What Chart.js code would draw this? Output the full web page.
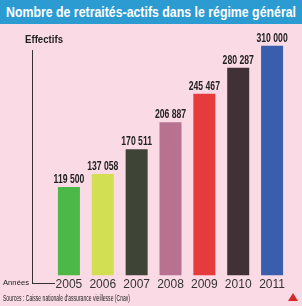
<!DOCTYPE html>
<html>
<head>
<meta charset="utf-8">
<script src="https://cdn.jsdelivr.net/npm/chart.js@4/dist/chart.umd.min.js"></script>
<style>
  html, body { margin: 0; padding: 0; }
  body {
    width: 302px; height: 306px; position: relative; overflow: hidden;
    background: #fadbe5;
    font-family: "Liberation Sans", Arial, sans-serif;
  }
  #chart { position: absolute; left: 0; top: 0; }
  .bandeau { position: absolute; left: 0; top: 0; width: 302px; height: 24px; background: #2b9bd2; }
  .serre { position: absolute; white-space: nowrap; transform-origin: 0 0; }
  .titre { left: 6px; top: 3px; color: #fff; font-weight: bold; font-size: 15px; line-height: 17px; }
  .effectifs { left: 25px; top: 33px; font-size: 11px; font-weight: bold; color: #222; }
  .annees { left: 3px; top: 278px; font-size: 8px; color: #222; }
  .axeY { position: absolute; left: 32px; top: 50px; width: 22px; height: 233px;
    border-left: 1px solid #333; border-bottom: 1px solid #333; }
  .source { left: 3px; top: 293px; font-size: 9px; color: #222; }
  .logo { position: absolute; left: 288px; top: 293px; width: 0; height: 0;
    border-left: 5px solid transparent; border-right: 5px solid transparent; border-bottom: 8px solid #d32a2a; }
</style>
</head>
<body>
<div class="bandeau"></div>
<div class="serre titre" data-largeur="290">Nombre de retraités-actifs dans le régime général</div>
<canvas id="chart" width="302" height="306"></canvas>
<div class="axeY"></div>
<div class="serre effectifs" data-largeur="38">Effectifs</div>
<div class="serre annees" data-largeur="26">Années</div>
<div class="serre source" data-largeur="127">Sources : Caisse nationale d'assurance vieillesse (Cnav)</div>
<div class="logo"></div>
<script>
// -------------------------------
// DONNEES
// -------------------------------
const annees = ["2005", "2006", "2007", "2008", "2009", "2010", "2011"];
const effectifs = [119500, 137058, 170511, 206887, 245467, 280287, 310000];
const etiquettes = ["119 500", "137 058", "170 511", "206 887", "245 467", "280 287", "310 000"];
const couleurs = ["#4cb848", "#d3df52", "#3f4536", "#b8728f", "#e63b3c", "#3f3135", "#3a5eae"];

// texte condense (pas de police narrow installee)
document.querySelectorAll(".serre").forEach(el => {
    const cible = parseFloat(el.dataset.largeur);
    const w = el.getBoundingClientRect().width;
    el.style.transform = "scaleX(" + (cible / w) + ")";
});

// etiquettes de valeur au-dessus des barres
const valeursPlugin = {
    id: "valeurs",
    afterDatasetsDraw(chart) {
        const ctx = chart.ctx;
        const meta = chart.getDatasetMeta(0);
        ctx.save();
        ctx.font = "bold 12px 'Liberation Sans', Arial, sans-serif";
        ctx.fillStyle = "#222";
        ctx.textAlign = "center";
        ctx.textBaseline = "alphabetic";
        meta.data.forEach((bar, i) => {
            ctx.save();
            ctx.translate(bar.x, bar.y - 4);
            ctx.scale(0.72, 1);
            ctx.fillText(etiquettes[i], 0, 0);
            ctx.restore();
        });
        ctx.restore();
    }
};

new Chart(document.getElementById("chart"), {
    type: "bar",
    data: {
        labels: annees,
        datasets: [{
            data: effectifs,
            backgroundColor: couleurs,
            borderWidth: 0,
            categoryPercentage: 1,
            barPercentage: 0.65
        }]
    },
    options: {
        responsive: false,
        animation: false,
        layout: { padding: { left: 52, right: 13, top: 31, bottom: 12 } },
        plugins: { legend: { display: false }, tooltip: { enabled: false } },
        scales: {
            x: {
                grid: { display: false, drawTicks: false },
                border: { display: false },
                ticks: {
                    color: "#333",
                    padding: 2,
                    font: { family: "'Liberation Sans', Arial, sans-serif", size: 12 }
                }
            },
            y: {
                display: false,
                min: 0,
                max: 330000
            }
        }
    },
    plugins: [valeursPlugin]
});
</script>
</body>
</html>
